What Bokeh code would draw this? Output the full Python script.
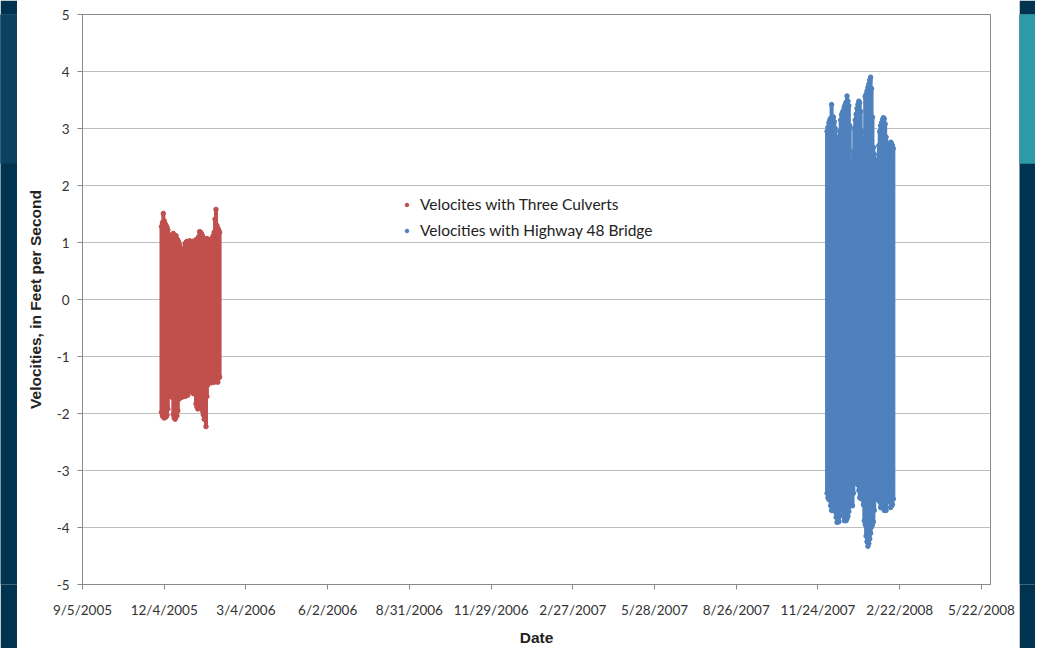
from datetime import datetime
from bokeh.plotting import figure
from bokeh.layouts import row
from bokeh.models import Range1d, FixedTicker, Legend, LegendItem
from bokeh.embed import file_html
from bokeh.resources import INLINE

# ---------------- data ----------------
tick_labels = ["9/5/2005", "12/4/2005", "3/4/2006", "6/2/2006", "8/31/2006",
               "11/29/2006", "2/27/2007", "5/28/2007", "8/26/2007",
               "11/24/2007", "2/22/2008", "5/22/2008"]
x_axis_max = "6/1/2008"
y_ticks = [-5, -4, -3, -2, -1, 0, 1, 2, 3, 4, 5]

# daily high / low velocity (ft/s), Three Culverts
red_start = "12/1/2005"
red_max = [1.28, 1.35, 1.51, 1.38, 1.33, 1.30, 1.27, 1.22,
           1.14, 1.10, 1.12, 1.08, 1.13,
           1.16, 1.12, 1.10, 1.12, 1.06, 1.04, 1.00,
           0.95, 0.88, 0.80, 0.70, 0.78, 0.90, 0.98,
           1.00, 1.02, 0.98, 1.01, 1.03, 0.97, 1.00, 1.02, 0.98, 1.00, 1.03,
           1.05, 1.03, 1.07, 1.10,
           1.19, 1.18, 1.16, 1.12, 1.08, 1.05,
           1.02, 1.05, 1.07,
           1.03, 1.05, 1.00, 1.04, 1.06, 1.08, 1.12, 1.18,
           1.41, 1.58, 1.30, 1.25, 1.22, 1.18]
red_min = [-1.98, -2.04, -2.06, -2.08, -2.05, -2.06, -2.03, -1.92,
           -1.70, -1.65, -1.62, -1.68, -1.72,
           -2.02, -2.08, -2.10, -2.06, -2.04, -1.95, -1.75,
           -1.70, -1.68, -1.72, -1.70, -1.65, -1.68, -1.70,
           -1.66, -1.64, -1.68, -1.62, -1.60, -1.58, -1.62, -1.60, -1.65, -1.62, -1.66,
           -1.83, -1.88, -1.92, -1.85,
           -1.80, -1.78, -1.90, -1.95, -2.02, -2.10,
           -2.08, -2.23, -1.70,
           -1.50, -1.46, -1.44, -1.42, -1.46, -1.40, -1.38, -1.45,
           -1.42, -1.44, -1.40, -1.45, -1.38, -1.36]

# daily high / low velocity (ft/s), Highway 48 Bridge
blue_start = "12/4/2007"
blue_max = [2.95, 3.02,
            3.10, 3.15, 3.18, 3.42, 3.21, 3.20, 3.12, 3.00,
            2.85, 2.75, 2.73, 2.78, 2.95,
            3.15, 3.24, 3.28, 3.32, 3.38, 3.42, 3.46, 3.57, 3.48, 3.40, 3.05,
            2.40, 2.13, 2.15, 2.60,
            3.00, 3.15, 3.25, 3.35, 3.42, 3.48, 3.45, 3.30, 2.95,
            2.60, 2.45, 2.80,
            3.56, 3.60, 3.66, 3.72, 3.78, 3.85, 3.90, 3.70, 3.20,
            2.67, 2.55, 2.45, 2.35, 2.33, 2.45, 2.70,
            2.95, 3.05, 3.10, 3.15, 3.19, 3.17, 3.08, 2.85,
            2.55, 2.50, 2.60,
            2.72, 2.76, 2.74, 2.70, 2.65]
blue_min = [-3.40, -3.48, -3.51, -3.50,
            -3.62, -3.70, -3.68, -3.70, -3.66, -3.72,
            -3.82, -3.91, -3.88, -3.90, -3.80,
            -3.65, -3.62, -3.66,
            -3.80, -3.88, -3.86, -3.88, -3.84, -3.80, -3.72,
            -3.62, -3.60, -3.58, -3.62, -3.40,
            -3.19, -3.20, -3.22, -3.18, -3.25, -3.35,
            -3.48, -3.45, -3.50, -3.46, -3.60,
            -3.88, -3.95,
            -4.15, -4.25, -4.33, -4.28, -4.20, -4.10,
            -3.99, -3.95, -3.90, -3.70,
            -3.51, -3.48, -3.50, -3.46, -3.52, -3.55,
            -3.65, -3.62, -3.64, -3.60,
            -3.70, -3.68, -3.70, -3.50,
            -3.20, -3.25,
            -3.55, -3.65, -3.62, -3.60, -3.50]

# ---------------- helpers ----------------
EPOCH = datetime(1899, 12, 30)


def serial(s):
    return (datetime.strptime(s, "%m/%d/%Y") - EPOCH).days


tick_values = [serial(t) for t in tick_labels]
red_x = [serial(red_start) + i for i in range(len(red_max))]
blue_x = [serial(blue_start) + i for i in range(len(blue_max))]

RED = "#C0504D"
BLUE = "#4F81BD"
H = 648
LEFT_W = 17
RIGHT_W = 16
MAIN_W = 1035 - LEFT_W - RIGHT_W
BAND_H = 169

# ---------------- main chart ----------------
p = figure(width=MAIN_W, height=H, x_range=Range1d(tick_values[0], serial(x_axis_max)),
           y_range=Range1d(-5, 5), output_backend="svg", toolbar_location=None,
           min_border_left=65, min_border_right=29, min_border_top=14,
           min_border_bottom=63, background_fill_color="white",
           border_fill_color="white")

p.segment(x0=red_x, y0=red_min, x1=red_x, y1=red_max, line_color=RED,
          line_width=4, line_cap="round")
r_red = p.scatter(x=red_x + red_x, y=red_max + red_min, size=4.5,
                  fill_color=RED, line_color=RED)
p.segment(x0=blue_x, y0=blue_min, x1=blue_x, y1=blue_max, line_color=BLUE,
          line_width=4, line_cap="round")
r_blue = p.scatter(x=blue_x + blue_x, y=blue_max + blue_min, size=4.5,
                   fill_color=BLUE, line_color=BLUE)

p.xgrid.visible = False
p.ygrid.ticker = FixedTicker(ticks=y_ticks)
p.ygrid.grid_line_color = "#bdbdbd"
p.ygrid.grid_line_width = 1
p.outline_line_color = "#8a8a8a"

p.xaxis.ticker = FixedTicker(ticks=tick_values)
p.xaxis.major_label_overrides = {v: l for v, l in zip(tick_values, tick_labels)}
p.yaxis.ticker = FixedTicker(ticks=y_ticks)
p.yaxis.major_label_overrides = {v: str(v) for v in y_ticks}

for ax in (p.xaxis[0], p.yaxis[0]):
    ax.axis_line_color = "#8a8a8a"
    ax.major_tick_line_color = "#8a8a8a"
    ax.minor_tick_line_color = None
    ax.major_tick_out = 5
    ax.major_tick_in = 0
    ax.major_label_text_font = "Lato"
    ax.major_label_text_font_size = "13.5px"
    ax.major_label_text_color = "#333333"
    ax.axis_label_text_font = "Liberation Sans"
    ax.axis_label_text_font_style = "bold"
    ax.axis_label_text_font_size = "15.5px"
    ax.axis_label_text_color = "#222222"

p.xaxis.axis_label = "Date"
p.xaxis.major_label_standoff = 12
p.xaxis.axis_label_standoff = 8
p.yaxis.axis_label = "Velocities, in Feet per Second"
p.yaxis.major_label_standoff = 8
p.yaxis.axis_label_standoff = 10

legend = Legend(items=[LegendItem(label="Velocites with Three Culverts", renderers=[r_red]),
                       LegendItem(label="Velocities with Highway 48 Bridge", renderers=[r_blue])],
                location=(320, 345), orientation="vertical",
                glyph_width=9, glyph_height=9, label_standoff=9, spacing=8,
                padding=0, margin=0, border_line_color=None,
                background_fill_alpha=0, label_text_font="Lato",
                label_text_font_size="15.5px", label_text_color="#222222")
p.add_layout(legend)

# ---------------- slide background strips ----------------
left = figure(width=LEFT_W, height=H, x_range=Range1d(0, 1), y_range=Range1d(0, H),
              x_axis_type=None, y_axis_type=None, toolbar_location=None,
              output_backend="svg", min_border=0, background_fill_color="#00334f",
              border_fill_color="#00334f", outline_line_color=None)
left.quad(left=0, right=1, bottom=H - BAND_H, top=H, color="#0b4262")

right = figure(width=RIGHT_W, height=H, x_range=Range1d(0, 1), y_range=Range1d(0, H),
               x_axis_type=None, y_axis_type=None, toolbar_location=None,
               output_backend="svg", min_border=0, background_fill_color="#00334f",
               border_fill_color="#00334f", outline_line_color=None)
right.quad(left=0, right=1, bottom=H - BAND_H, top=H, color="#2e9aa8")

layout = row(left, p, right)
open("out.html", "w").write(file_html(layout, INLINE))
